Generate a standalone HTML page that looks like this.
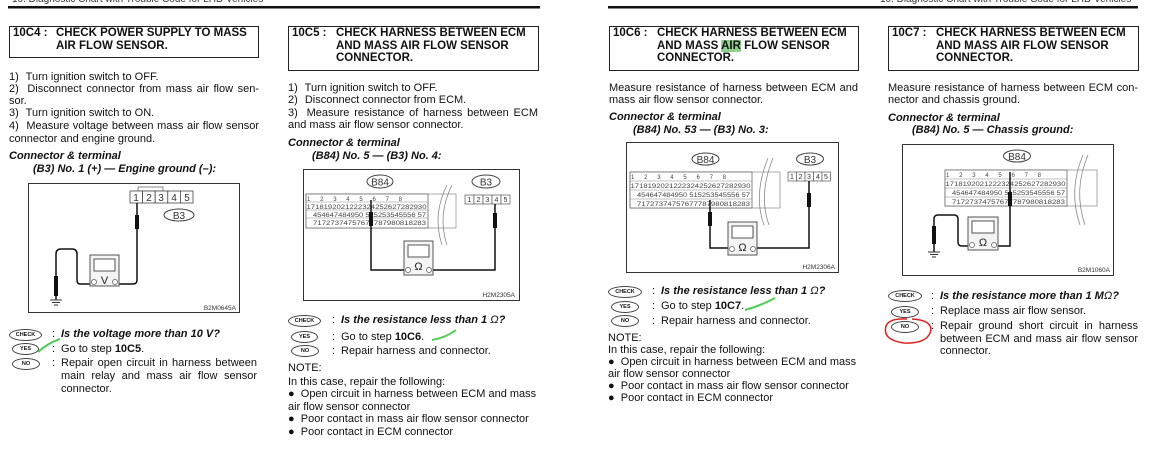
<!DOCTYPE html>
<html><head><meta charset="utf-8"><style>
html,body{margin:0;padding:0;background:#fff;}
body{width:1160px;height:459px;position:relative;overflow:hidden;font-family:"Liberation Sans",Arial,sans-serif;color:#111;}
.t{position:absolute;font-size:11px;line-height:13px;white-space:nowrap;}
.b{font-weight:bold;}
.h{font-weight:bold;font-size:11.5px;line-height:12.5px;}
.bi{font-weight:bold;font-style:italic;}
.j{text-align:justify;text-align-last:justify;white-space:normal;}
.n{margin-right:4px;}
.box{position:absolute;border:1px solid #222;box-sizing:border-box;}
.bx{position:absolute;border:1px solid #444;border-radius:50%;font-size:5.5px;font-weight:bold;text-align:center;box-sizing:border-box;line-height:10px;height:12px;}
svg{position:absolute;left:0;top:0;}
</style></head><body>
<svg width="1160" height="459" viewBox="0 0 1160 459" font-family="Liberation Sans, Arial, sans-serif">
<rect x="8" y="6" width="532" height="2.5" fill="#111"/>
<rect x="608" y="6" width="530" height="2.5" fill="#111"/>
<text x="12" y="2" font-size="10" fill="#333">10. Diagnostic Chart with Trouble Code for LHD Vehicles</text>
<text x="880" y="2" font-size="10" fill="#333">10. Diagnostic Chart with Trouble Code for LHD Vehicles</text>

<!-- Diagram 1 -->
<rect x="28.5" y="183.5" width="211" height="129" fill="none" stroke="#333"/>
<rect x="138" y="187" width="25" height="4" fill="none" stroke="#555" stroke-width="0.7"/>
<g fill="#fff" stroke="#444" stroke-width="0.8">
<rect x="130" y="191" width="12.6" height="12"/><rect x="142.6" y="191" width="12.6" height="12"/><rect x="155.2" y="191" width="12.6" height="12"/><rect x="167.8" y="191" width="12.6" height="12"/><rect x="180.4" y="191" width="12.6" height="12"/>
</g>
<g font-size="10" fill="#333" text-anchor="middle"><text x="136" y="201">1</text><text x="149" y="201">2</text><text x="161" y="201">3</text><text x="174" y="201">4</text><text x="187" y="201">5</text></g>
<ellipse cx="179" cy="215" rx="15" ry="6" fill="none" stroke="#444"/>
<text x="179" y="219" font-size="10" text-anchor="middle" fill="#333">B3</text>
<path d="M137 203 V280 Q137 284 133 284 H119" fill="none" stroke="#111" stroke-width="1.5"/>
<rect x="135" y="215" width="4" height="14" fill="#111"/>
<path d="M90 284 H80 Q77 284 77 280 V254 Q77 249 72 249 H61 Q56 249 56 254 V300" fill="none" stroke="#111" stroke-width="1.5"/>
<rect x="54" y="276" width="4" height="20" fill="#111"/>
<path d="M50 300 H62 M52 302.5 H60 M54 305 H58" stroke="#333" stroke-width="1"/>
<rect x="90" y="255" width="29" height="31" fill="#f4f4f4" stroke="#555"/>
<rect x="94" y="259" width="21" height="12" fill="#fff" stroke="#555"/>
<text x="104.5" y="284" font-size="11" text-anchor="middle" fill="#222">V</text>
<circle cx="94" cy="282" r="2.5" fill="#fff" stroke="#555" stroke-width="0.7"/><circle cx="115" cy="282" r="2.5" fill="#fff" stroke="#555" stroke-width="0.7"/>
<text x="236" y="310" font-size="6.5" text-anchor="end" fill="#333">B2M0645A</text>

<!-- Diagram 2 -->
<rect x="303.5" y="169.5" width="216" height="131" fill="none" stroke="#333"/>
<rect x="306" y="194" width="150" height="34" fill="#fff" stroke="#888" stroke-width="0.7"/>
<rect x="306" y="194" width="122" height="34" fill="#fff" stroke="#666" stroke-width="0.8"/>
<path d="M306 202 H428 M306 210 H428 M306 218 H428" stroke="#888" stroke-width="0.6"/>
<g font-size="6" fill="#444"><text x="307" y="201" textLength="95" lengthAdjust="spacing">1 2  3 4   5 6  7 8</text>
<text x="306.5" y="209" textLength="120" lengthAdjust="spacingAndGlyphs">1718192021222324252627282930</text>
<text x="313" y="217" textLength="113" lengthAdjust="spacingAndGlyphs">454647484950 515253545556 57</text>
<text x="313" y="225" textLength="113" lengthAdjust="spacingAndGlyphs">71727374757677787980818283</text></g>
<path d="M447 185 Q432 215 442 245 M452 185 Q437 215 447 245" fill="none" stroke="#888" stroke-width="0.8"/>
<ellipse cx="380" cy="181.5" rx="13" ry="6.5" fill="none" stroke="#444"/>
<text x="380" y="185.5" font-size="10" text-anchor="middle" fill="#333">B84</text>
<ellipse cx="486" cy="181.5" rx="14" ry="6.5" fill="none" stroke="#444"/>
<text x="486" y="185.5" font-size="10" text-anchor="middle" fill="#333">B3</text>
<g fill="#fff" stroke="#555" stroke-width="0.7"><rect x="465" y="195" width="9" height="9"/><rect x="474" y="195" width="9" height="9"/><rect x="483" y="195" width="9" height="9"/><rect x="492" y="195" width="9" height="9"/><rect x="501" y="195" width="9" height="9"/></g>
<g font-size="7" fill="#333" text-anchor="middle"><text x="469.5" y="202">1</text><text x="478.5" y="202">2</text><text x="487.5" y="202">3</text><text x="496.5" y="202">4</text><text x="505.5" y="202">5</text></g>
<path d="M371 200 V270 H404 M433 270 H495 V204" fill="none" stroke="#111" stroke-width="1.5"/>
<rect x="369" y="212" width="4" height="14" fill="#111"/><rect x="493" y="213" width="4" height="15" fill="#111"/>
<rect x="404" y="241" width="29" height="34" fill="#f4f4f4" stroke="#555"/>
<rect x="408" y="245" width="21" height="12" fill="#fff" stroke="#555"/>
<text x="418.5" y="270" font-size="11" text-anchor="middle" fill="#222">Ω</text>
<circle cx="408" cy="270" r="2.5" fill="#fff" stroke="#555" stroke-width="0.7"/><circle cx="429" cy="270" r="2.5" fill="#fff" stroke="#555" stroke-width="0.7"/>
<text x="515" y="297" font-size="6.5" text-anchor="end" fill="#333">H2M2305A</text>

<!-- Diagram 3 -->
<rect x="626.5" y="142.5" width="212" height="130" fill="none" stroke="#333"/>
<rect x="630" y="172" width="150" height="36" fill="#fff" stroke="#888" stroke-width="0.7"/>
<rect x="630" y="172" width="122" height="36" fill="#fff" stroke="#666" stroke-width="0.8"/>
<path d="M630 181 H752 M630 190 H752 M630 199 H752" stroke="#888" stroke-width="0.6"/>
<g font-size="6" fill="#444"><text x="631" y="179" textLength="95" lengthAdjust="spacing">1 2  3 4   5 6  7 8</text>
<text x="630.5" y="188" textLength="120" lengthAdjust="spacingAndGlyphs">1718192021222324252627282930</text>
<text x="637" y="197" textLength="113" lengthAdjust="spacingAndGlyphs">454647484950 515253545556 57</text>
<text x="637" y="206" textLength="113" lengthAdjust="spacingAndGlyphs">71727374757677787980818283</text></g>
<path d="M768 158 Q753 195 764 225 M773 158 Q758 195 769 225" fill="none" stroke="#888" stroke-width="0.8"/>
<ellipse cx="705.5" cy="159" rx="13.5" ry="6" fill="none" stroke="#444"/>
<text x="705.5" y="163" font-size="10" text-anchor="middle" fill="#333">B84</text>
<ellipse cx="810" cy="159" rx="13.5" ry="6" fill="none" stroke="#444"/>
<text x="810" y="163" font-size="10" text-anchor="middle" fill="#333">B3</text>
<g fill="#fff" stroke="#555" stroke-width="0.7"><rect x="788" y="172" width="8.5" height="9"/><rect x="796.5" y="172" width="8.5" height="9"/><rect x="805" y="172" width="8.5" height="9"/><rect x="813.5" y="172" width="8.5" height="9"/><rect x="822" y="172" width="8.5" height="9"/></g>
<g font-size="7" fill="#333" text-anchor="middle"><text x="792" y="179">1</text><text x="800.5" y="179">2</text><text x="809" y="179">3</text><text x="818" y="179">4</text><text x="826" y="179">5</text></g>
<path d="M710 200 V248 H728 M757 248 H809 V181" fill="none" stroke="#111" stroke-width="1.5"/>
<rect x="708" y="212" width="4" height="14" fill="#111"/><rect x="807" y="193" width="4" height="14" fill="#111"/>
<rect x="728" y="222" width="29" height="33" fill="#f4f4f4" stroke="#555"/>
<rect x="732" y="226" width="21" height="12" fill="#fff" stroke="#555"/>
<text x="742.5" y="251" font-size="11" text-anchor="middle" fill="#222">Ω</text>
<circle cx="732" cy="249" r="2.5" fill="#fff" stroke="#555" stroke-width="0.7"/><circle cx="753" cy="249" r="2.5" fill="#fff" stroke="#555" stroke-width="0.7"/>
<text x="835" y="269" font-size="6.5" text-anchor="end" fill="#333">H2M2306A</text>

<!-- Diagram 4 -->
<rect x="902.5" y="144.5" width="211" height="131" fill="none" stroke="#333"/>
<rect x="945" y="170" width="152" height="36" fill="#fff" stroke="#888" stroke-width="0.7"/>
<rect x="945" y="170" width="122" height="36" fill="#fff" stroke="#666" stroke-width="0.8"/>
<path d="M945 179 H1067 M945 188 H1067 M945 197 H1067" stroke="#888" stroke-width="0.6"/>
<g font-size="6" fill="#444"><text x="946" y="177" textLength="95" lengthAdjust="spacing">1 2  3 4   5 6  7 8</text>
<text x="945.5" y="186" textLength="120" lengthAdjust="spacingAndGlyphs">1718192021222324252627282930</text>
<text x="952" y="195" textLength="113" lengthAdjust="spacingAndGlyphs">454647484950 515253545556 57</text>
<text x="952" y="204" textLength="113" lengthAdjust="spacingAndGlyphs">71727374757677787980818283</text></g>
<path d="M1083 155 Q1068 190 1080 225 M1088 155 Q1073 190 1085 225" fill="none" stroke="#888" stroke-width="0.8"/>
<ellipse cx="1017" cy="156" rx="13.5" ry="6" fill="none" stroke="#444"/>
<text x="1017" y="160" font-size="10" text-anchor="middle" fill="#333">B84</text>
<path d="M1010 172 V246 H998 M968 246 H962 Q958 246 958 242 V219 Q958 215 954 215 H938 Q934 215 934 219 V252" fill="none" stroke="#111" stroke-width="1.5"/>
<rect x="1008" y="192" width="4" height="14" fill="#111"/><rect x="932" y="226" width="4" height="18" fill="#111"/>
<path d="M928 252 H940 M930 254.5 H938 M932 257 H936" stroke="#333" stroke-width="1"/>
<rect x="968" y="217" width="30" height="33" fill="#f4f4f4" stroke="#555"/>
<rect x="972" y="221" width="22" height="12" fill="#fff" stroke="#555"/>
<text x="983" y="246" font-size="11" text-anchor="middle" fill="#222">Ω</text>
<circle cx="972" cy="245" r="2.5" fill="#fff" stroke="#555" stroke-width="0.7"/><circle cx="994" cy="245" r="2.5" fill="#fff" stroke="#555" stroke-width="0.7"/>
<text x="1110" y="272" font-size="6.5" text-anchor="end" fill="#333">B2M1060A</text>

<path d="M38 352 Q48 343 60 339" stroke="#5c5" stroke-width="2" fill="none"/>
<path d="M432 340 Q445 338 456 330" stroke="#5c5" stroke-width="2" fill="none"/>
<path d="M745 310 Q760 306 775 298" stroke="#5c5" stroke-width="2" fill="none"/>
<path d="M907 319 Q889 318 886 326 Q882 340 904 343 Q928 344 931 330 Q931 320 912 319" stroke="#d22" stroke-width="1.5" fill="none"/>
</svg>

<!-- Column 1 -->
<div class="box" style="left:9px;top:26px;width:250px;height:32px;"></div>
<div class="t h" style="left:13px;top:27px;">10C4 :</div>
<div class="t h" style="left:56px;top:27px;">CHECK POWER SUPPLY TO MASS<br>AIR FLOW SENSOR.</div>
<div class="t" style="left:9px;top:71px;"><span class="n">1)</span> Turn ignition switch to OFF.</div>
<div class="t j" style="left:9px;top:83px;width:250px;"><span class="n">2)</span> Disconnect connector from mass air flow sen-</div>
<div class="t" style="left:9px;top:95px;">sor.</div>
<div class="t" style="left:9px;top:107px;"><span class="n">3)</span> Turn ignition switch to ON.</div>
<div class="t j" style="left:9px;top:120px;width:250px;"><span class="n">4)</span> Measure voltage between mass air flow sensor</div>
<div class="t" style="left:9px;top:133px;">connector and engine ground.</div>
<div class="t bi" style="left:9px;top:150px;">Connector &amp; terminal</div>
<div class="t bi" style="left:33px;top:163px;">(B3) No. 1 (+) — Engine ground (–):</div>
<div class="bx" style="left:9px;top:329px;width:33px;">CHECK</div>
<div class="bx" style="left:12px;top:343px;width:27px;">YES</div>
<div class="bx" style="left:12px;top:358px;width:28px;">NO</div>
<div class="t" style="left:52px;top:328px;">:</div><div class="t bi" style="left:61px;top:328px;">Is the voltage more than 10 V?</div>
<div class="t" style="left:52px;top:343px;">:</div><div class="t" style="left:61px;top:343px;">Go to step <b>10C5</b>.</div>
<div class="t" style="left:52px;top:357px;">:</div>
<div class="t j" style="left:61px;top:357px;width:196px;">Repair open circuit in harness between</div>
<div class="t j" style="left:61px;top:370px;width:196px;">main relay and mass air flow sensor</div>
<div class="t" style="left:61px;top:383px;">connector.</div>

<!-- Column 2 -->
<div class="box" style="left:288px;top:26px;width:251px;height:45px;"></div>
<div class="t h" style="left:292px;top:27px;">10C5 :</div>
<div class="t h" style="left:336px;top:27px;">CHECK HARNESS BETWEEN ECM<br>AND MASS AIR FLOW SENSOR<br>CONNECTOR.</div>
<div class="t" style="left:288px;top:82px;"><span class="n">1)</span> Turn ignition switch to OFF.</div>
<div class="t" style="left:288px;top:94px;"><span class="n">2)</span> Disconnect connector from ECM.</div>
<div class="t j" style="left:288px;top:107px;width:250px;"><span class="n">3)</span> Measure resistance of harness between ECM</div>
<div class="t" style="left:288px;top:119px;">and mass air flow sensor connector.</div>
<div class="t bi" style="left:288px;top:137px;">Connector &amp; terminal</div>
<div class="t bi" style="left:312px;top:150px;">(B84) No. 5 — (B3) No. 4:</div>
<div class="bx" style="left:288px;top:315px;width:33px;">CHECK</div>
<div class="bx" style="left:291px;top:331px;width:27px;">YES</div>
<div class="bx" style="left:291px;top:345px;width:28px;">NO</div>
<div class="t" style="left:332px;top:314px;">:</div><div class="t bi" style="left:341px;top:314px;">Is the resistance less than 1 <span style="font-weight:normal">Ω</span>?</div>
<div class="t" style="left:332px;top:331px;">:</div><div class="t" style="left:341px;top:331px;">Go to step <b>10C6</b>.</div>
<div class="t" style="left:332px;top:345px;">:</div><div class="t" style="left:341px;top:345px;">Repair harness and connector.</div>
<div class="t" style="left:288px;top:362px;">NOTE:</div>
<div class="t" style="left:288px;top:376px;">In this case, repair the following:</div>
<div class="t" style="left:288px;top:388px;">●&nbsp; Open circuit in harness between ECM and mass</div>
<div class="t" style="left:288px;top:401px;">air flow sensor connector</div>
<div class="t" style="left:288px;top:413px;">●&nbsp; Poor contact in mass air flow sensor connector</div>
<div class="t" style="left:288px;top:426px;">●&nbsp; Poor contact in ECM connector</div>

<!-- Column 3 -->
<div class="box" style="left:609px;top:26px;width:250px;height:45px;"></div>
<div class="t h" style="left:613px;top:27px;">10C6 :</div>
<div class="t h" style="left:657px;top:27px;">CHECK HARNESS BETWEEN ECM<br>AND MASS <span style="background:#8fd08f;">AIR</span> FLOW SENSOR<br>CONNECTOR.</div>
<div class="t j" style="left:609px;top:82px;width:249px;">Measure resistance of harness between ECM and</div>
<div class="t" style="left:609px;top:94px;">mass air flow sensor connector.</div>
<div class="t bi" style="left:609px;top:111px;">Connector &amp; terminal</div>
<div class="t bi" style="left:633px;top:124px;">(B84) No. 53 — (B3) No. 3:</div>
<div class="bx" style="left:608px;top:286px;width:34px;">CHECK</div>
<div class="bx" style="left:611px;top:301px;width:28px;">YES</div>
<div class="bx" style="left:611px;top:315px;width:28px;">NO</div>
<div class="t" style="left:652px;top:285px;">:</div><div class="t bi" style="left:661px;top:285px;">Is the resistance less than 1 <span style="font-weight:normal">Ω</span>?</div>
<div class="t" style="left:652px;top:300px;">:</div><div class="t" style="left:661px;top:300px;">Go to step <b>10C7</b>.</div>
<div class="t" style="left:652px;top:315px;">:</div><div class="t" style="left:661px;top:315px;">Repair harness and connector.</div>
<div class="t" style="left:608px;top:332px;">NOTE:</div>
<div class="t" style="left:608px;top:344px;">In this case, repair the following:</div>
<div class="t" style="left:608px;top:356px;">●&nbsp; Open circuit in harness between ECM and mass</div>
<div class="t" style="left:608px;top:368px;">air flow sensor connector</div>
<div class="t" style="left:608px;top:380px;">●&nbsp; Poor contact in mass air flow sensor connector</div>
<div class="t" style="left:608px;top:392px;">●&nbsp; Poor contact in ECM connector</div>

<!-- Column 4 -->
<div class="box" style="left:888px;top:26px;width:251px;height:45px;"></div>
<div class="t h" style="left:892px;top:27px;">10C7 :</div>
<div class="t h" style="left:936px;top:27px;">CHECK HARNESS BETWEEN ECM<br>AND MASS AIR FLOW SENSOR<br>CONNECTOR.</div>
<div class="t j" style="left:888px;top:82px;width:250px;">Measure resistance of harness between ECM con-</div>
<div class="t" style="left:888px;top:94px;">nector and chassis ground.</div>
<div class="t bi" style="left:888px;top:112px;">Connector &amp; terminal</div>
<div class="t bi" style="left:912px;top:124px;">(B84) No. 5 — Chassis ground:</div>
<div class="bx" style="left:888px;top:290px;width:34px;">CHECK</div>
<div class="bx" style="left:891px;top:306px;width:28px;">YES</div>
<div class="bx" style="left:891px;top:321px;width:28px;">NO</div>
<div class="t" style="left:931px;top:290px;">:</div><div class="t bi" style="left:940px;top:290px;">Is the resistance more than 1 M<span style="font-weight:normal">Ω</span>?</div>
<div class="t" style="left:931px;top:305px;">:</div><div class="t" style="left:940px;top:305px;">Replace mass air flow sensor.</div>
<div class="t" style="left:931px;top:320px;">:</div>
<div class="t j" style="left:940px;top:320px;width:198px;">Repair ground short circuit in harness</div>
<div class="t j" style="left:940px;top:333px;width:198px;">between ECM and mass air flow sensor</div>
<div class="t" style="left:940px;top:345px;">connector.</div>
</body></html>
